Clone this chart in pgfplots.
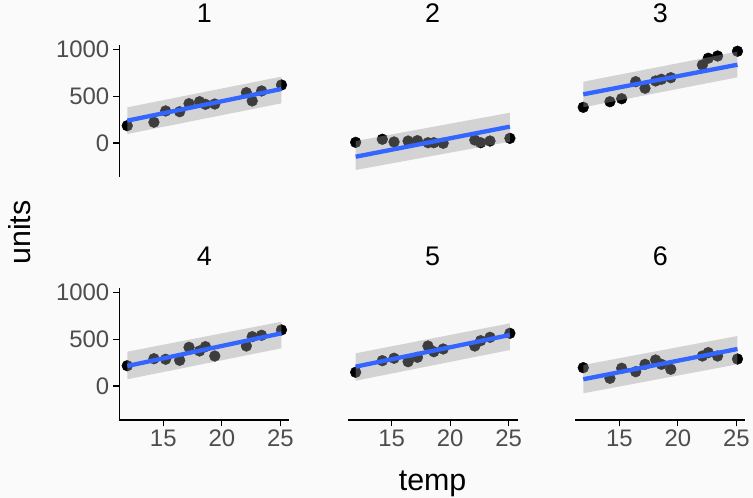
\documentclass[border=0pt]{standalone}
\usepackage{fontspec}
\setmainfont{Liberation Sans}
\usepackage{pgfplots}
\usepackage{pgfplotstable}
\pgfplotsset{compat=1.18}

\definecolor{panelbg}{RGB}{250,250,250}
\definecolor{tickgray}{RGB}{77,77,77}
\definecolor{fitblue}{HTML}{3366FF}
\definecolor{bandgray}{RGB}{153,153,153}

\newcommand{\ticksize}{\fontsize{24}{28}\selectfont}
\newcommand{\stripsize}{\fontsize{27}{32}\selectfont}
\newcommand{\titlesize}{\fontsize{30.5}{36}\selectfont}

% observed units per store, by temperature
\pgfplotstableread{
temp   p1   p2   p3   p4   p5   p6
11.92  185    7  382  217  147  196
14.20  222   40  442  292  271   82
15.20  343   11  474  286  297  190
16.40  335   21  656  275  260  153
17.20  421   25  586  414  307  232
18.10  442    3  664  375  428  278
18.60  414    3  682  421  367  232
19.40  417   -3  699  321  396  179
22.10  539   32  835  428  428  321
22.60  450    3  907  528  485  357
23.40  557   21  931  543  521  321
25.10  621   50  982  600  564  289
}\points

\pgfplotsset{
  facet/.style={
    scale only axis, width=169.9bp, height=132bp,
    xmin=11.24, xmax=25.76, ymin=-364, ymax=1049,
    xtick={15,20,25}, ytick={0,500,1000},
    tick align=outside, major tick length=6.5bp,
    tick style={black, line width=1.1bp},
    axis line style={black, line width=1.1bp, -},
    ticklabel style={font=\ticksize, text=tickgray},
    /pgf/number format/assume math mode=true,
    /pgf/number format/1000 sep={},
    title style={font=\stripsize, anchor=base, at={(0.5,1)}, yshift=16.7bp, inner sep=0pt},
    clip=false,
    % draw markers in plot order, so the ribbon lies over the observations
    clip marker paths=true,
  },
  leftcol/.style={axis y line*=left},
  innercol/.style={hide y axis},
  bottomrow/.style={axis x line*=bottom},
  toprow/.style={hide x axis},
  pts/.style={only marks, mark=*, mark size=5.4bp, mark options={draw=none, fill=black}},
  band/.style={draw=none, fill=bandgray, fill opacity=0.4},
  fit/.style={fitblue, line width=4.3bp, no marks},
}

\begin{document}
\begin{tikzpicture}
\fill[panelbg] (0,0) rectangle (753bp,498bp);
\path[use as bounding box] (0,0) rectangle (753bp,498bp);

% ---- top row ----
\begin{axis}[facet, leftcol, toprow, title={1}, at={(119.3bp,321bp)}, anchor=south west]
  \addplot[pts] table[x=temp, y=p1] {\points};
  \addplot[band] coordinates {(11.92,96) (25.1,425) (25.1,710) (11.92,382)} -- cycle;
  \addplot[fit] coordinates {(11.92,239) (25.1,578)};
\end{axis}

\begin{axis}[facet, innercol, toprow, title={2}, at={(347.7bp,321bp)}, anchor=south west]
  \addplot[pts] table[x=temp, y=p2] {\points};
  \addplot[band] coordinates {(11.92,-289) (25.1,14) (25.1,324) (11.92,21)} -- cycle;
  \addplot[fit] coordinates {(11.92,-147) (25.1,175)};
\end{axis}

\begin{axis}[facet, innercol, toprow, title={3}, at={(575.3bp,321bp)}, anchor=south west]
  \addplot[pts] table[x=temp, y=p3] {\points};
  \addplot[band] coordinates {(11.92,382) (25.1,703) (25.1,978) (11.92,656)} -- cycle;
  \addplot[fit] coordinates {(11.92,521) (25.1,838)};
\end{axis}

% ---- bottom row ----
\begin{axis}[facet, leftcol, bottomrow, title={4}, at={(119.3bp,78bp)}, anchor=south west]
  \addplot[pts] table[x=temp, y=p4] {\points};
  \addplot[band] coordinates {(11.92,72) (25.1,404) (25.1,688) (11.92,367)} -- cycle;
  \addplot[fit] coordinates {(11.92,214) (25.1,564)};
\end{axis}

\begin{axis}[facet, innercol, bottomrow, title={5}, at={(347.7bp,78bp)}, anchor=south west]
  \addplot[pts] table[x=temp, y=p5] {\points};
  \addplot[band] coordinates {(11.92,57) (25.1,385) (25.1,671) (11.92,350)} -- cycle;
  \addplot[fit] coordinates {(11.92,207) (25.1,546)};
\end{axis}

\begin{axis}[facet, innercol, bottomrow, title={6}, at={(575.3bp,78bp)}, anchor=south west]
  \addplot[pts] table[x=temp, y=p6] {\points};
  \addplot[band] coordinates {(11.92,-78) (25.1,232) (25.1,535) (11.92,225)} -- cycle;
  \addplot[fit] coordinates {(11.92,72) (25.1,396)};
\end{axis}

% shared axis titles
\node[font=\titlesize, anchor=base] at (432.6bp,7.5bp) {temp};
\node[font=\titlesize, rotate=90, anchor=base] at (30bp,265.5bp) {units};
\end{tikzpicture}
\end{document}
